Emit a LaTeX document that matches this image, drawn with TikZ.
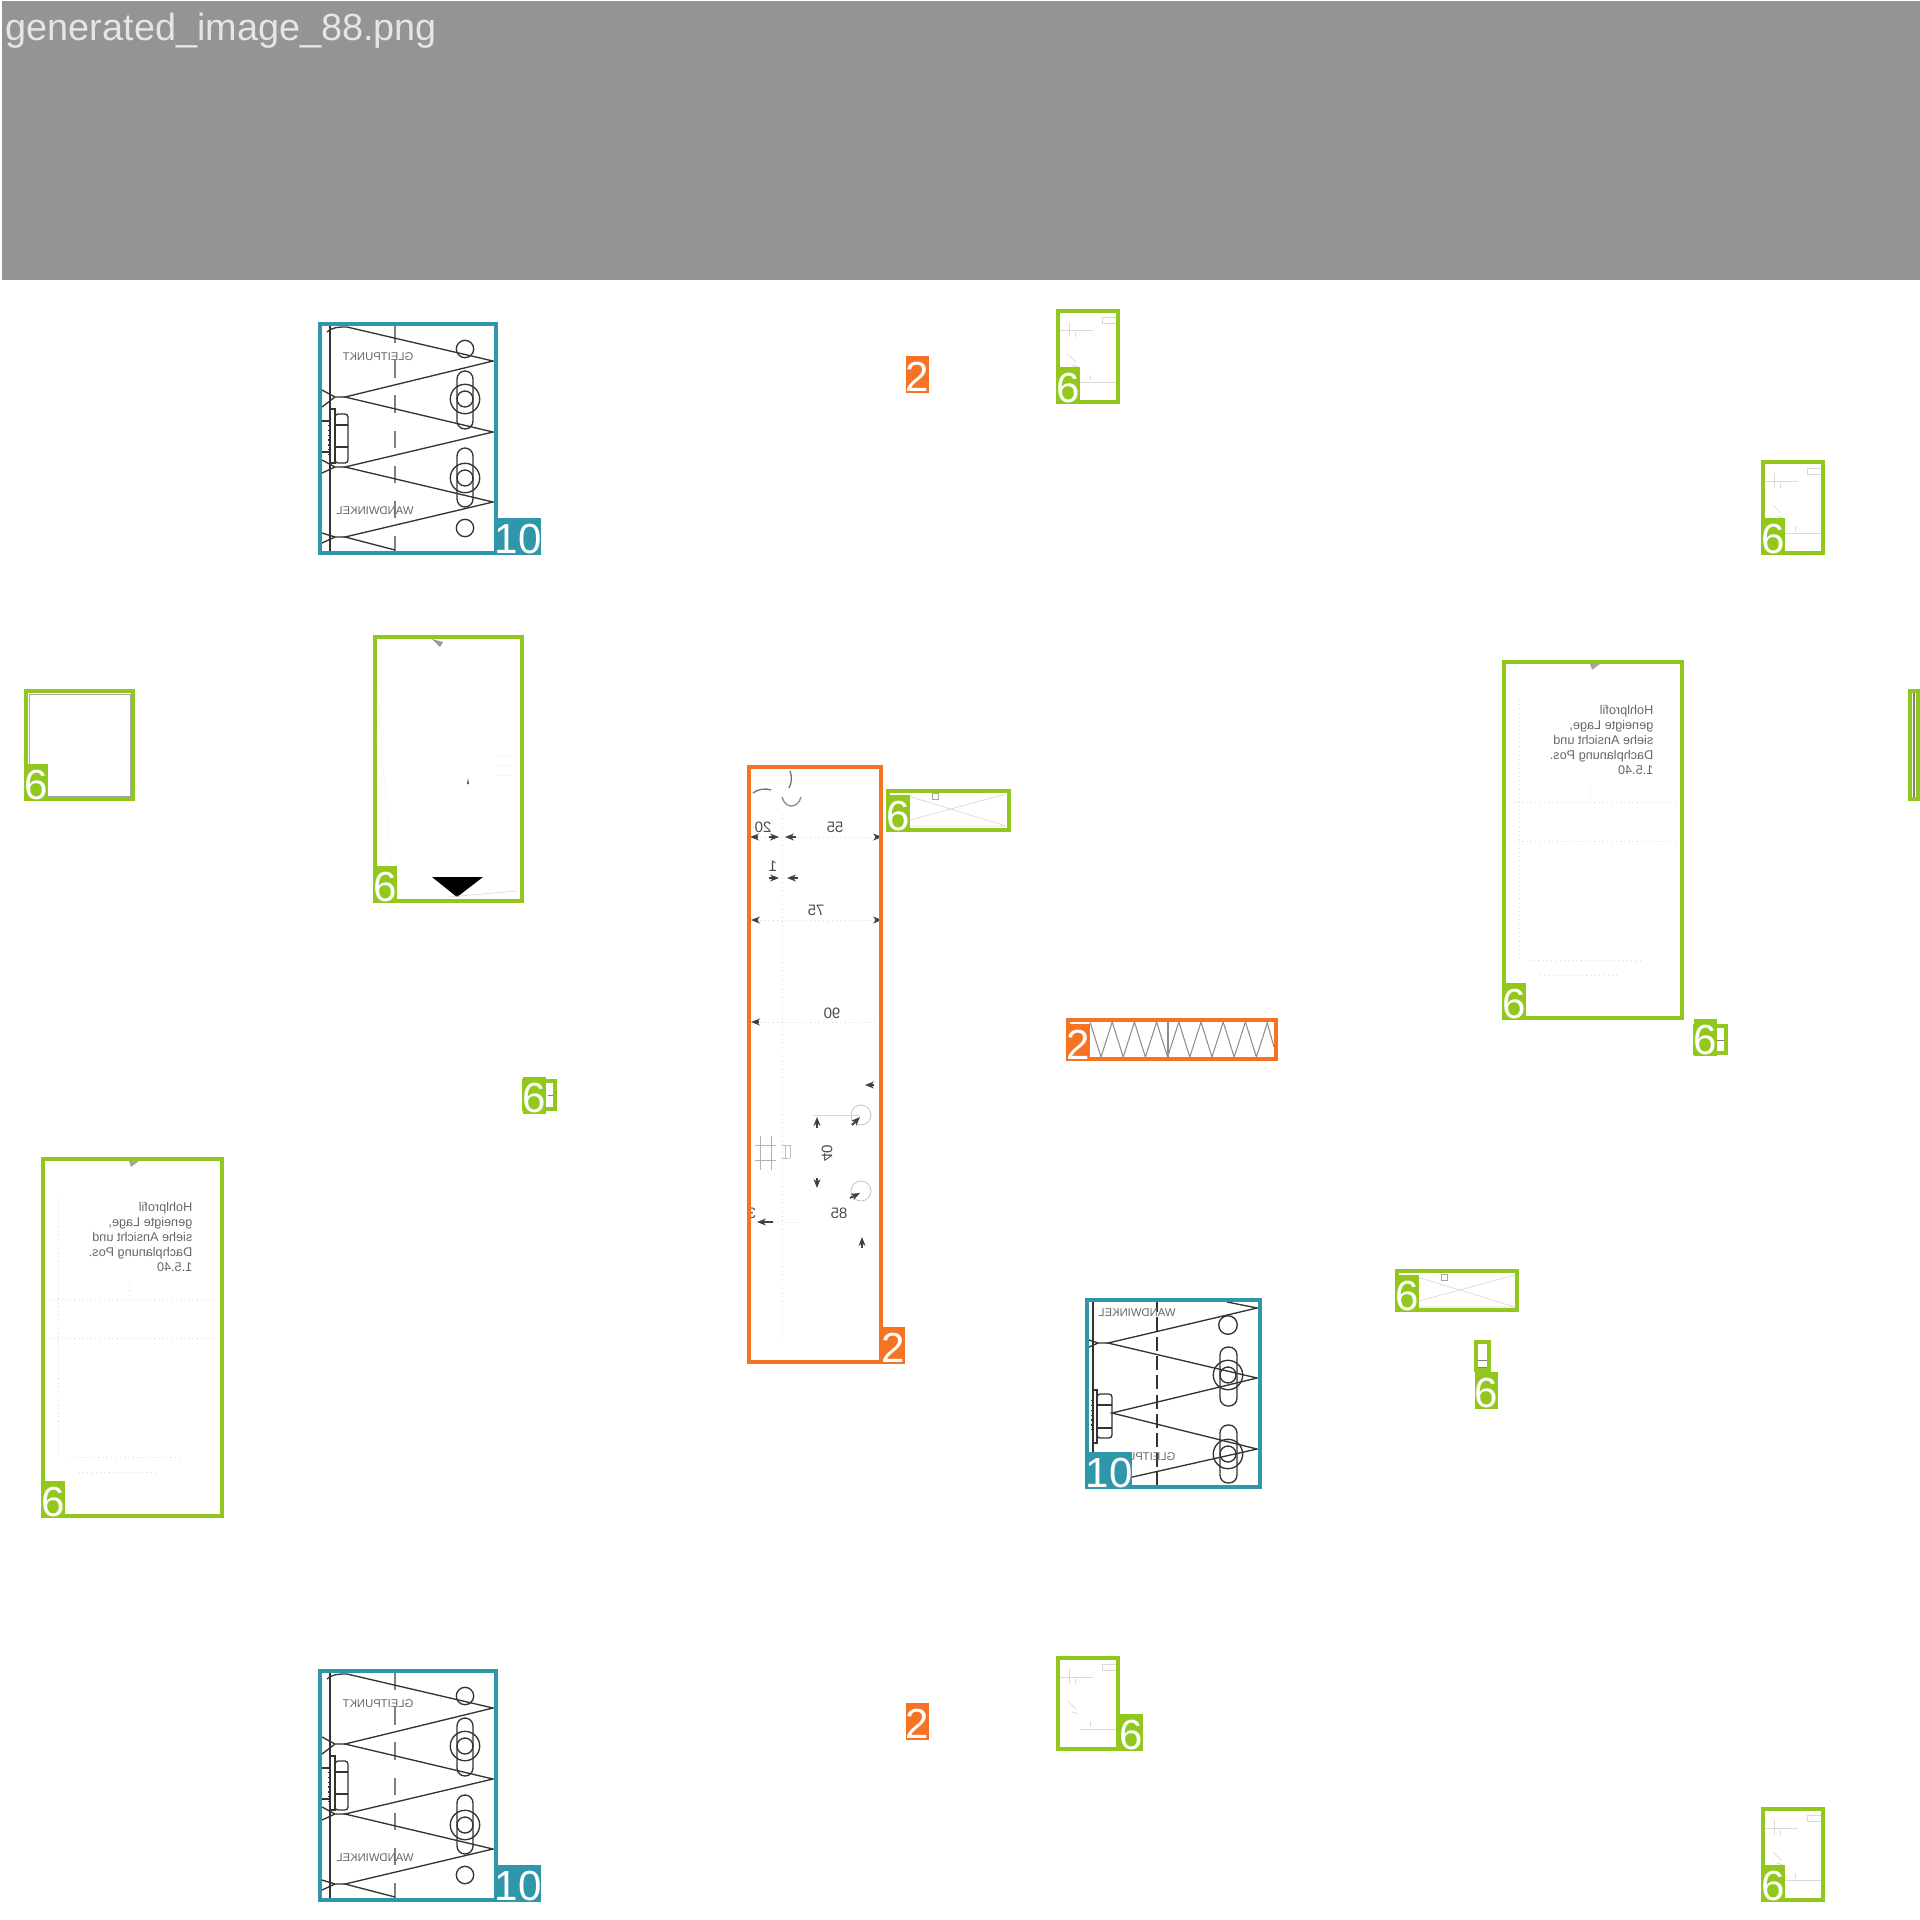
\documentclass[tikz,border=0pt]{standalone}
\usepackage{fontspec}
\setmainfont{Liberation Sans}
\usetikzlibrary{fit,arrows.meta}
\definecolor{partgreen}{RGB}{146,200,30}
\definecolor{partorange}{RGB}{245,115,35}
\definecolor{partteal}{RGB}{48,150,170}
\definecolor{headgray}{RGB}{148,148,148}

% bracket drawing with its two labels
\newcommand{\bracketsheet}{
  \draw[sheetline] (330,324) -- (330,553);
  \draw[sheetline, gray, dash pattern=on 5pt off 5pt] (395,325) -- (395,552);
  \draw[sheetline] (327,332) .. controls (333,327) and (338,327) .. (347,327) -- (493,361)
    -- (345,397) -- (493,432) -- (345,467) -- (493,502) -- (345,537) -- (395,550);
  \draw[sheetline] (322,390) -- (335,397) -- (322,407) (335,397) -- (345,397);
  \draw[sheetline] (322,460) -- (335,467) -- (322,473) (335,467) -- (345,467);
  \draw[sheetline] (322,533) -- (335,537) -- (322,543) (335,537) -- (345,537);
  \draw[sheetline] (465,349) circle (8.7) (465,528) circle (8.7);
  \draw[sheetline, rounded corners=.08cm] (457,371) rectangle (473,429);
  \draw[sheetline, rounded corners=.08cm] (457,448) rectangle (473,507);
  \foreach \cy in {399,478} {
    \draw[sheetline] (465,\cy) circle (14.7) (465,\cy) circle (8);
  }
  \draw[sheetline] (330,409) rectangle (335,463);
  \draw[sheetline, rounded corners=.03cm] (335,414) rectangle (348,463);
  \draw[sheetline] (335,425) -- (348,425) (335,447) -- (348,447);
  \draw[sheetline, densely dotted, line width=.8pt] (329,420) -- (329,455);
  \draw[sheetline] (322,421) -- (330,421) (322,452) -- (330,452);
  \node[mirrortext] at (378,357) {GLEITPUNKT};
  \node[mirrortext] at (375,511) {WANDWINKEL};
}
% faint marks of the narrow sheets
\newcommand{\narrowsheet}{
  \draw[faintline] (1060,330) -- (1093,330) (1069,322) -- (1069,337) (1075,332) -- (1075,337);
  \draw[faintline] (1102,317) rectangle (1117,323);
  \draw[faintline] (1080,382) -- (1117,382) (1090,375) -- (1090,380);
  \draw[faintline] (1068,354) -- (1076,362) (1072,365) -- (1078,367);
}
% faint marks of the tall sheets with their note
\newcommand{\hollowsheet}{
  \fill[gray!70] (1590,664) -- (1600,664) -- (1592,670) -- cycle;
  \draw[faintline, densely dotted] (1510,802) -- (1675,802) (1510,841) -- (1675,841);
  \draw[faintline, densely dotted] (1590,785) -- (1590,805) (1519,700) -- (1519,960);
  \draw[faintline, densely dotted] (1530,960) -- (1640,960) (1540,975) -- (1620,975);
  \node[hollownote] at (1654,705) {Hohlprofil\\geneigte Lage,\\siehe Ansicht und\\Dachplanung Pos.\\1.5.40};
}

\tikzset{
  sheetline/.style={draw=black!80, line width=.38pt},
  faintline/.style={draw=black!15, line width=.2pt},
  dimarrow/.style={draw=black!75, line width=.55pt, -{Stealth[length=.09cm,width=.07cm]}},
  mirrortext/.style={xscale=-1, transform shape, inner sep=0, text=black!60, font=\fontsize{3.2pt}{4pt}\selectfont},
  dimtext/.style={xscale=-1, transform shape, inner sep=0, text=black!70, font=\fontsize{4.3pt}{5pt}\selectfont},
  hollownote/.style={xscale=-1, transform shape, anchor=north west, inner sep=0, align=left, text=black!60,
    font=\fontsize{3.6pt}{4.27pt}\selectfont},
  partbox/.style={draw, fill=none, inner sep=-.02cm, line width=1.14pt},
  greenbox/.style={partbox, draw=partgreen},
  orangebox/.style={partbox, draw=partorange},
  tealbox/.style={partbox, draw=partteal},
  parttag/.style={inner sep=0, minimum height=.37cm, minimum width=.23cm, text=white,
    text height=.34cm, text depth=0pt, font=\fontsize{11.95pt}{12pt}\selectfont},
  greentag/.style={parttag, fill=partgreen},
  orangetag/.style={parttag, fill=partorange},
  tealtag/.style={parttag, fill=partteal}
}

\begin{document}
\begin{tikzpicture}[x=.01cm, y=-.01cm]
\useasboundingbox (0,0) rectangle (1920,1920);

% header
\fill[headgray] (2,1) rectangle (1920,280);
\node[anchor=base west, inner sep=0, text=black!10, font=\fontsize{10.76pt}{12pt}\selectfont] (title) at (5,40) {generated\_image\_88.png};

% brackets
\bracketsheet
\begin{scope}[shift={(0,1347)}]
\bracketsheet
\end{scope}

% third bracket, turned
\draw[sheetline] (1093,1298) -- (1093,1489);
\draw[sheetline, dash pattern=on 4pt off 1.5pt] (1157,1298) -- (1157,1489);
\draw[sheetline] (1227,1302) -- (1257,1308) -- (1108,1343) -- (1257,1378) -- (1112,1413) -- (1257,1449) -- (1128,1478);
\draw[sheetline] (1089,1340) -- (1098,1343) -- (1089,1347) (1098,1343) -- (1108,1343);
\draw[sheetline] (1228,1325) circle (9.3);
\draw[sheetline, rounded corners=.08cm] (1220,1347) rectangle (1237,1406);
\draw[sheetline, rounded corners=.08cm] (1220,1425) rectangle (1237,1483);
\foreach \cy in {1375,1454} {
  \draw[sheetline] (1228,\cy) circle (14.7) (1228,\cy) circle (8);
}
\draw[sheetline] (1093,1390) rectangle (1097,1443);
\draw[sheetline, rounded corners=.03cm] (1097,1394) rectangle (1112,1438);
\draw[sheetline] (1097,1405) -- (1112,1405) (1097,1428) -- (1112,1428);
\draw[sheetline, densely dotted, line width=.8pt] (1092,1400) -- (1092,1432);
\node[mirrortext] at (1137,1313) {WANDWINKEL};
\node[mirrortext] at (1140,1457) {GLEITPUNKT};

% tall sheets
\hollowsheet
\begin{scope}[shift={(-1461,497)}]
\hollowsheet
\end{scope}

% narrow sheets
\narrowsheet
\begin{scope}[shift={(705,151)}]
\narrowsheet
\end{scope}
\begin{scope}[shift={(0,1347)}]
\narrowsheet
\end{scope}
\begin{scope}[shift={(705,1498)}]
\narrowsheet
\end{scope}

% sheet with the triangle
\fill[black] (432,877) -- (483,877) -- (457,897) -- cycle;
\fill[gray!80] (432,639) -- (443,642) -- (440,647) -- cycle;
\fill[black!70] (467,784) -- (468,778) -- (469,784) -- cycle;
\draw[faintline, densely dotted] (377,690) -- (391,865);
\draw[faintline] (448,897) -- (517,891);
\draw[faintline, densely dotted] (497,755) -- (512,755) (497,765) -- (512,765) (497,775) -- (512,775);

% square, strip and small sections
\draw[draw=gray!70, line width=.25pt] (29,694) rectangle (130,796);
\draw[draw=gray, line width=.3pt] (1914,693) -- (1914,797);
\draw[faintline, draw=gray] (548,1095) -- (555,1095);
\draw[faintline, draw=gray] (1716,1040) -- (1725,1040);
\draw[faintline, draw=gray] (1478,1360) -- (1487,1360) (1478,1367) -- (1487,1367);

% flat sheets with the cross
\foreach \dx/\dy in {0/0, 509/481} {
  \begin{scope}[shift={(\dx,\dy)}]
  \draw[faintline] (905,795) -- (1006,826) (910,820) -- (1006,794) (908,826) -- (1006,826);
  \draw[faintline, draw=black!35] (932,793) rectangle (938,799);
  \end{scope}
}

% zigzag
\foreach \k in {0,...,7} {
  \draw[faintline, draw=black!45, line width=.3pt] ({1090+22.2*\k},1022) -- ({1101+22.2*\k},1057) -- ({1112.2+22.2*\k},1022);
}
\draw[faintline, draw=black!45, line width=.3pt] (1267,1022) -- (1274,1047);
\draw[faintline, draw=black!45, line width=.3pt] (1168,1022) -- (1168,1057);

% drawing in the orange frame
\draw[faintline, densely dotted] (782,815) -- (782,1340);
\draw[faintline, densely dotted] (760,837) -- (870,837) (760,920) -- (870,920) (760,1022) -- (875,1022) (760,1222) -- (800,1222);
\draw[faintline, draw=black!30] (760,1136) -- (760,1170) (771,1136) -- (771,1170) (755,1145) -- (776,1145) (755,1160) -- (776,1160);
\draw[faintline, draw=black!25] (782,1145) -- (790,1145) (782,1158) -- (790,1158) (785,1145) -- (785,1158) (790,1145) -- (790,1158);
\draw[sheetline, draw=black!55] (753,793) .. controls (758,789) and (765,788) .. (771,790);
\draw[sheetline, draw=black!55] (790,771) .. controls (792,777) and (792,782) .. (789,788);
\draw[sheetline, draw=black!45] (782,797) .. controls (785,809) and (798,809) .. (801,797);
\draw[faintline, draw=black!25] (861,1115) circle (10) (861,1191) circle (10);
\draw[faintline] (813,1115) -- (860,1115);
\node[dimtext] at (763,827) {20};
\node[dimtext] at (835,827) {55};
\node[dimtext] at (773,866) {1};
\node[dimtext] at (816,910) {75};
\node[dimtext] at (832,1013) {90};
\node[dimtext, rotate=90] at (827,1153) {40};
\node[dimtext] at (839,1213) {85};
\node[dimtext] at (752,1213) {3};
\draw[dimarrow] (758,837) -- (750,837);
\draw[dimarrow] (769,837) -- (779,837);
\draw[dimarrow] (796,837) -- (785,837);
\draw[dimarrow] (875,837) -- (882,837);
\draw[dimarrow] (769,878) -- (779,878);
\draw[dimarrow] (798,878) -- (787,878);
\draw[dimarrow] (758,920) -- (751,920);
\draw[dimarrow] (875,920) -- (882,920);
\draw[dimarrow] (759,1022) -- (751,1022);
\draw[dimarrow] (773,1222) -- (757,1222);
\draw[dimarrow] (874,1085) -- (865,1085);
\draw[dimarrow] (817,1128) -- (817,1117);
\draw[dimarrow] (817,1178) -- (817,1188);
\draw[dimarrow] (862,1248) -- (862,1237);
\draw[dimarrow] (852,1125) -- (860,1117);
\draw[dimarrow] (850,1198) -- (860,1193);

% frames and tags
\node[tealbox, fit={(318,322) (498,555)}] (bracketa) {};
\node[tealbox, fit={(318,1669) (498,1902)}] (bracketb) {};
\node[tealbox, fit={(1085,1298) (1262,1489)}] (bracketc) {};
\node[tealtag, anchor=south west] (bracketatag) at (494,556) {10};
\node[tealtag, anchor=south west] (bracketbtag) at (494,1903) {10};
\node[tealtag, anchor=south west] (bracketctag) at (1085,1490) {10};

\node[greenbox, fit={(1056,309) (1120,404)}] (narrowa) {};
\node[greenbox, fit={(1761,460) (1825,555)}] (narrowb) {};
\node[greenbox, fit={(1056,1656) (1120,1751)}] (narrowc) {};
\node[greenbox, fit={(1761,1807) (1825,1902)}] (narrowd) {};
\node[greentag, anchor=south west] (narrowatag) at (1056,405) {6};
\node[greentag, anchor=south west] (narrowbtag) at (1761,556) {6};
\node[greentag, anchor=south west] (narrowctag) at (1119,1752) {6};
\node[greentag, anchor=south west] (narrowdtag) at (1761,1903) {6};

\node[greenbox, fit={(24,689) (135,801)}] (square) {};
\node[greentag, anchor=south west] (squaretag) at (24,802) {6};
\node[greenbox, fit={(373,635) (524,903)}] (wedge) {};
\node[greentag, anchor=south west] (wedgetag) at (373,904) {6};
\node[greenbox, fit={(1502,660) (1684,1020)}] (hollowa) {};
\node[greentag, anchor=south west] (hollowatag) at (1502,1021) {6};
\node[greenbox, fit={(41,1157) (224,1518)}] (hollowb) {};
\node[greentag, anchor=south west] (hollowbtag) at (41,1519) {6};
\node[greenbox, fit={(1908,689) (1920,801)}] (strip) {};
\node[greenbox, fit={(886,789) (1011,832)}] (flata) {};
\node[greentag, anchor=south west] (flatatag) at (886,833) {6};
\node[greenbox, fit={(1395,1269) (1519,1312)}] (flatb) {};
\node[greentag, anchor=south west] (flatbtag) at (1395,1313) {6};
\node[greenbox, fit={(1474,1340) (1491,1372)}] (stub) {};
\node[greentag, anchor=north west] (stubtag) at (1474,1371) {6};
\node[greenbox, fit={(522,1079) (557,1111)}] (secta) {};
\node[greentag, anchor=south west] (sectatag) at (522,1115) {6};
\node[greenbox, fit={(1693,1024) (1728,1055)}] (sectb) {};
\node[greentag, anchor=south west] (sectbtag) at (1693,1057) {6};

\node[orangebox, fit={(747,765) (883,1364)}] (plate) {};
\node[orangetag, anchor=south west] (platetag) at (881,1365) {2};
\node[orangebox, fit={(1066,1018) (1278,1061)}] (zigzag) {};
\node[orangetag, anchor=south west] (zigzagtag) at (1066,1062) {2};
\node[orangetag, anchor=south west] (loosea) at (905,394) {2};
\node[orangetag, anchor=south west] (looseb) at (905,1741) {2};
\end{tikzpicture}
\end{document}
